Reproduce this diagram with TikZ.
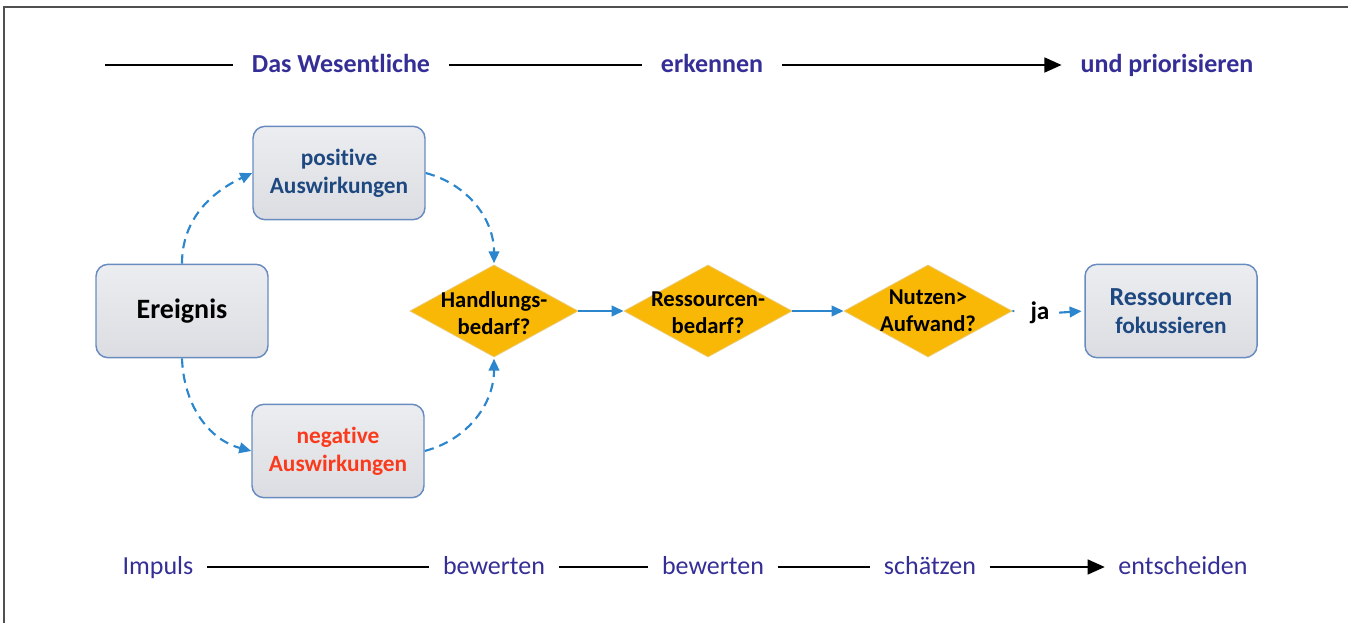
\documentclass[tikz,border=0pt]{standalone}
\usepackage{fontspec}
\setmainfont{Carlito}[Ligatures=NoCommon]
\usetikzlibrary{shapes.geometric,arrows.meta}
\definecolor{labelink}{RGB}{52,46,150}
\definecolor{posink}{RGB}{30,72,128}
\definecolor{negink}{RGB}{250,58,28}
\definecolor{flowblue}{RGB}{44,134,206}
\definecolor{boxedge}{RGB}{105,140,192}
\definecolor{boxtop}{RGB}{236,237,240}
\definecolor{boxbot}{RGB}{220,221,226}
\definecolor{gold}{RGB}{249,184,6}
\definecolor{goldedge}{RGB}{235,200,110}
\definecolor{framegray}{RGB}{80,80,80}
\begin{document}
\begin{tikzpicture}[x=0.75pt,y=0.75pt,
  toplabel/.style={font=\bfseries\fontsize{19.5}{23}\selectfont, text=labelink,
    inner xsep=14pt, inner ysep=0pt, text height=2.5ex, text depth=0ex},
  botlabel/.style={font=\fontsize{19.5}{23}\selectfont, text=labelink,
    inner xsep=10pt, inner ysep=0pt, text height=2.5ex, text depth=0ex},
  rail/.style={line width=2pt, black},
  railarrow/.style={rail, -{Triangle[length=13pt,width=11pt]}},
  box/.style={draw=boxedge, line width=1.1pt, rounded corners=9pt,
    top color=boxtop, bottom color=boxbot, minimum width=129pt,
    minimum height=70pt, align=center,
    font=\bfseries\fontsize{17.5}{21}\selectfont},
  decision/.style={diamond, draw=goldedge, line width=0.6pt, fill=gold,
    minimum width=126pt, minimum height=69pt, inner sep=0pt, aspect=1.83},
  dtext/.style={font=\bfseries\fontsize{17}{20}\selectfont, align=center,
    text=black, inner sep=0pt},
  flow/.style={draw=flowblue, line width=1.6pt,
    -{Triangle[length=9pt,width=8pt]}, color=flowblue},
  dflow/.style={flow, dash pattern=on 7pt off 4.5pt},
]
\useasboundingbox (0,0) rectangle (1348,-623);

% open frame: top and left edges
\draw[framegray, line width=1.5pt] (1348,-7) -- (4,-7) -- (4,-623);

% headline rail
\coordinate (c0) at (105,-65);
\node[toplabel] (t1) at (341,-65) {Das Wesentliche};
\node[toplabel] (t2) at (712,-65) {erkennen};
\node[toplabel] (t3) at (1167,-65) {und priorisieren};
\draw[rail] (c0) -- (t1.west);
\draw[rail] (t1.east) -- (t2.west);
\draw[railarrow] (t2.east) -- (t3.west);

% process boxes
\node[box] (er) at (182,-311) {\fontsize{21}{25}\selectfont Ereignis};
\node[box, text=posink] (pos) at (339,-173) {positive\\Auswirkungen};
\node[box, text=negink] (neg) at (338,-451) {negative\\Auswirkungen};
\node[box, text=posink] (res) at (1171,-311)
  {\fontsize{19.5}{22.5}\selectfont Ressourcen\\fokussieren};

% decisions
\node[decision] (d1) at (494,-311) {};
\node[decision] (d2) at (708,-311) {};
\node[decision] (d3) at (928,-311) {};
\node[dtext] (d1t) at (494,-313) {Handlungs-\\bedarf?};
\node[dtext] (d2t) at (708,-313) {Ressourcen-\\bedarf?};
\node[dtext] (d3t) at (928,-311) {Nutzen>\\Aufwand?};
\node[font=\bfseries\fontsize{19}{22}\selectfont, inner sep=3pt] (ja) at (1040,-313) {ja};

% dashed branches
\draw[dflow] (er.north) to[out=90, in=205] (pos.west);
\draw[dflow, shorten >=1pt] (pos.east) to[out=-15, in=90] (d1.north);
\draw[dflow] (er.south) to[out=-88, in=165] (neg.west);
\draw[dflow, shorten >=1pt] (neg.east) to[out=15, in=-90] (d1.south);

% solid flow
\draw[flow] (d1.east) -- (d2.west);
\draw[flow] (d2.east) -- (d3.west);
\draw[flowblue, line width=1.4pt, shorten >=9pt] (d3.east) -- (ja.west);
\draw[flow, shorten <=4pt, shorten >=2pt] (ja.east) -- (res.west);

% bottom rail
\node[botlabel] (b1) at (158,-567) {Impuls};
\node[botlabel] (b2) at (494,-567) {bewerten};
\node[botlabel] (b3) at (713,-567) {bewerten};
\node[botlabel] (b4) at (930,-567) {schätzen};
\node[botlabel] (b5) at (1183,-567) {entscheiden};
\draw[rail] (b1.east) -- (b2.west);
\draw[rail] (b2.east) -- (b3.west);
\draw[rail] (b3.east) -- (b4.west);
\draw[railarrow] (b4.east) -- (b5.west);
\end{tikzpicture}
\end{document}
